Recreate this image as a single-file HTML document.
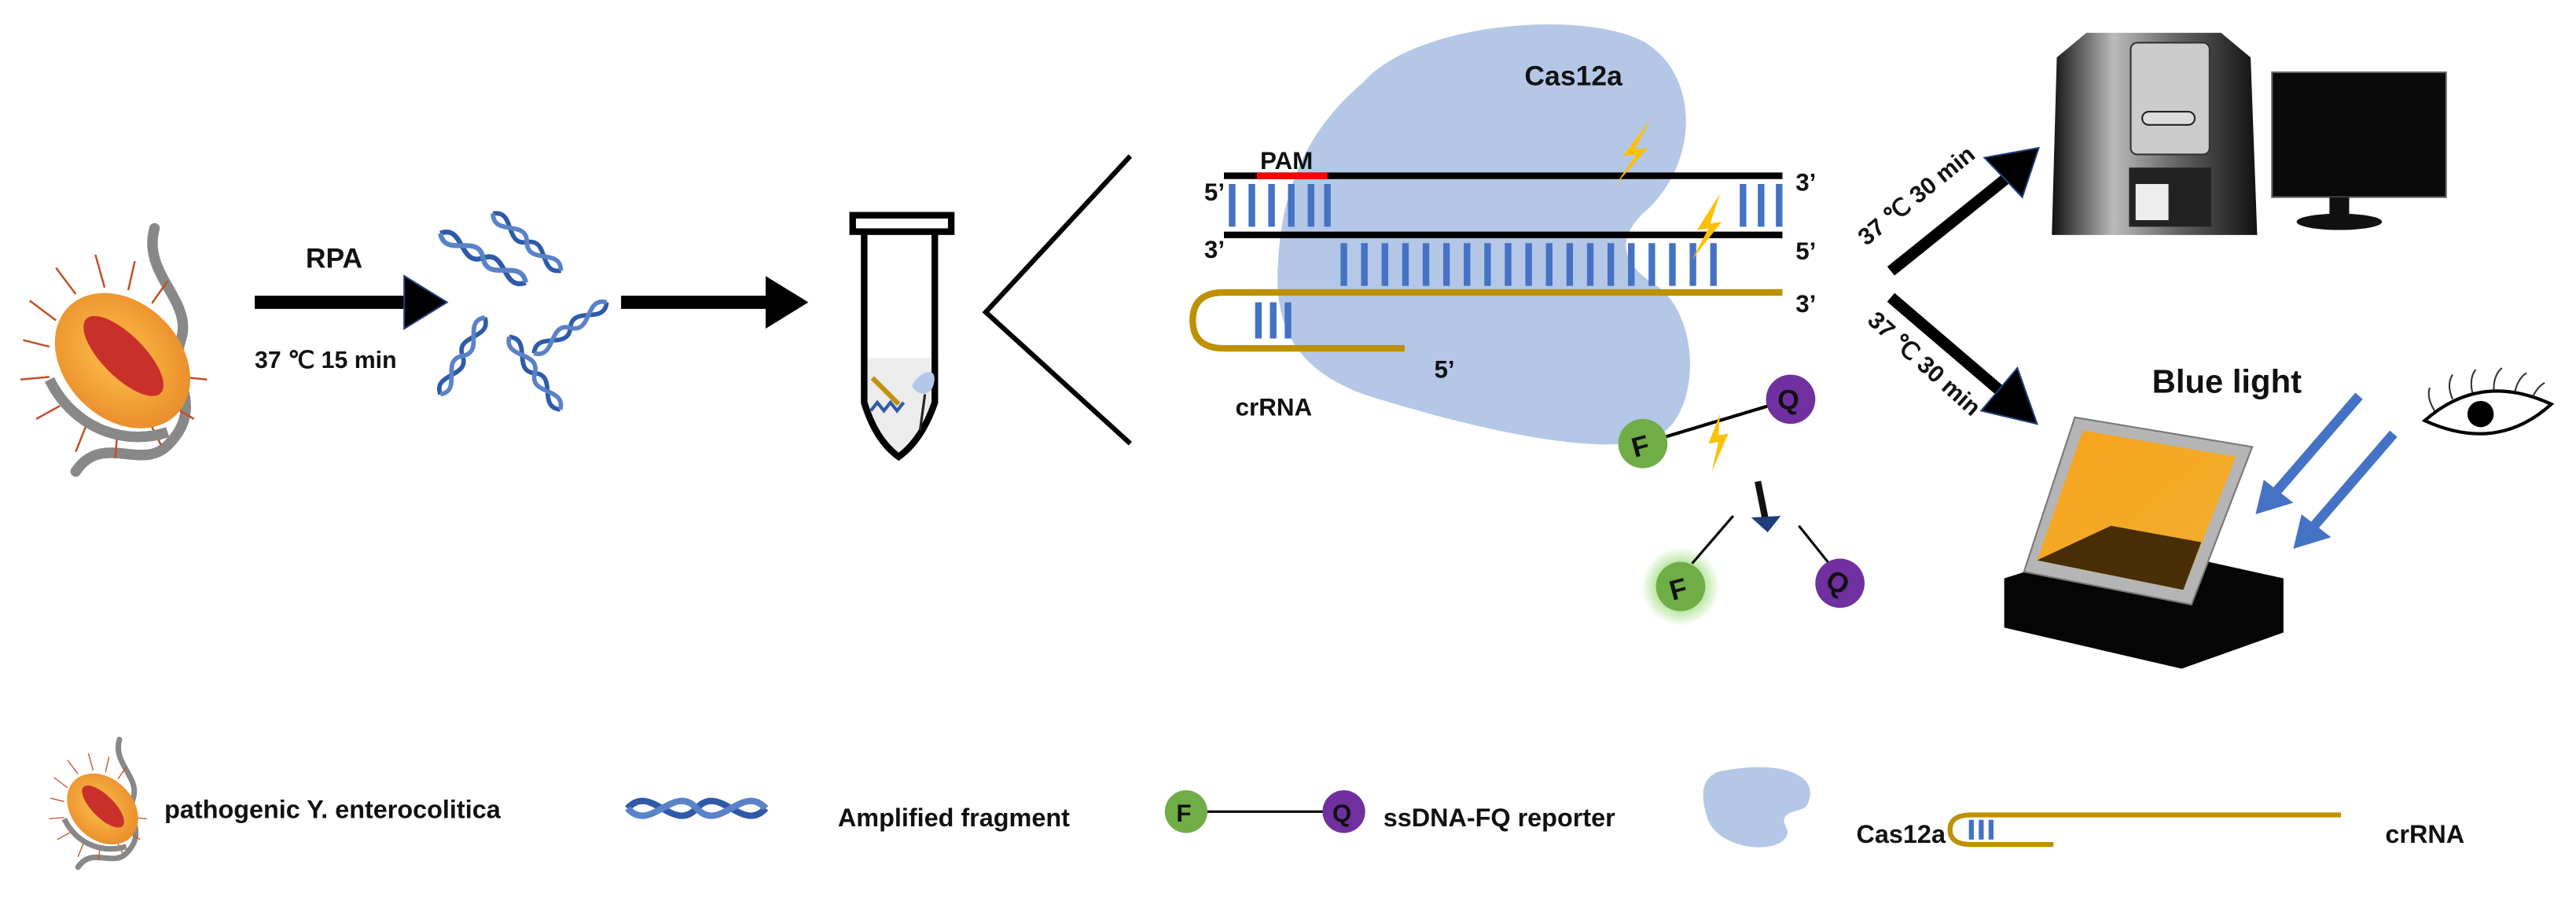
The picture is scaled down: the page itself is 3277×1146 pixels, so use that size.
<!DOCTYPE html>
<html><head><meta charset="utf-8"><style>
html,body{margin:0;padding:0;background:#fff}
svg{display:block}
text{font-family:"Liberation Sans",sans-serif;font-weight:bold;fill:#111}
</style></head><body>
<svg width="3277" height="1146" viewBox="0 0 1568 548.4" xmlns="http://www.w3.org/2000/svg">
<defs>
<radialGradient id="bac" cx="50%" cy="45%" r="60%"><stop offset="0" stop-color="#ffc24a"/><stop offset="1" stop-color="#e88a2a"/></radialGradient>
<radialGradient id="glow"><stop offset="0.5" stop-color="#a8e08a"/><stop offset="1" stop-color="#a8e08a" stop-opacity="0"/></radialGradient>
<linearGradient id="org" x1="0" y1="0" x2="1" y2="1"><stop offset="0" stop-color="#f7a21c"/><stop offset="1" stop-color="#f0b030"/></linearGradient>
<linearGradient id="inst" x1="0" y1="0" x2="1" y2="0"><stop offset="0" stop-color="#111"/><stop offset="0.3" stop-color="#bbb"/><stop offset="0.6" stop-color="#666"/><stop offset="1" stop-color="#111"/></linearGradient>
<g id="bact">
<path d="M30 -95 C20 -60 60 -40 50 -10 C40 20 70 40 40 70 C20 90 -10 60 -30 90" stroke="#888" stroke-width="8" fill="none" stroke-linecap="round"/>
<g stroke="#c0502a" stroke-width="1.5">
<line x1="-70" y1="-10" x2="-50" y2="-5"/><line x1="-65" y1="-40" x2="-45" y2="-25"/><line x1="-45" y1="-65" x2="-30" y2="-45"/><line x1="-15" y1="-75" x2="-8" y2="-50"/><line x1="15" y1="-70" x2="10" y2="-48"/><line x1="40" y1="-55" x2="28" y2="-38"/><line x1="70" y1="20" x2="50" y2="18"/><line x1="60" y1="50" x2="40" y2="38"/><line x1="35" y1="70" x2="25" y2="50"/><line x1="0" y1="80" x2="2" y2="58"/><line x1="-30" y1="75" x2="-22" y2="55"/><line x1="-60" y1="50" x2="-42" y2="40"/><line x1="-72" y1="20" x2="-50" y2="18"/>
</g>
<ellipse cx="0" cy="8" rx="44" ry="58" transform="rotate(-45)" fill="url(#bac)"/>
<ellipse cx="3" cy="6" rx="16" ry="40" transform="rotate(-45)" fill="#c9302a"/>
<path d="M-50 20 C-30 60 10 70 40 60" stroke="#888" stroke-width="8" fill="none"/>
</g>
<g id="helix" fill="none" stroke="#2e5aa8" stroke-width="3">
<path d="M0 0 C10 -12 20 12 30 0 C40 -12 50 12 60 0"/>
<path d="M0 0 C10 12 20 -12 30 0 C40 12 50 -12 60 0" stroke="#5a82c8"/>
</g>
</defs>

<!-- bacterium -->
<g transform="translate(70,215) scale(0.8)"><use href="#bact"/></g>

<!-- RPA arrow -->
<text x="186" y="163" font-size="17">RPA</text>
<line x1="155" y1="184" x2="248" y2="184" stroke="#000" stroke-width="8"/>
<polygon points="246,168 272,184 246,200" fill="#000" stroke="#1f3f7a" stroke-width="1"/>
<text x="155" y="224" font-size="14.5">37 ℃  15 min</text>

<!-- dna cluster -->
<g transform="translate(268,142) rotate(30)"><use href="#helix"/></g>
<g transform="translate(300,130) rotate(40) scale(0.9)"><use href="#helix"/></g>
<g transform="translate(325,215) rotate(-35) scale(0.9)"><use href="#helix"/></g>
<g transform="translate(268,240) rotate(-60) scale(0.9)"><use href="#helix"/></g>
<g transform="translate(310,205) rotate(55) scale(0.9)"><use href="#helix"/></g>

<!-- arrow 2 -->
<line x1="378" y1="184" x2="468" y2="184" stroke="#000" stroke-width="8"/>
<polygon points="466,168 492,184 466,200" fill="#000"/>

<!-- tube -->
<rect x="519" y="131" width="60" height="10" fill="none" stroke="#000" stroke-width="4"/>
<path d="M524 218 L571 218 L571 245 Q563 268 547 278 Q531 268 524 245 Z" fill="#ececec"/>
<path d="M526 141 L526 245 Q533 268 547 278 Q561 268 569 245 L569 141" fill="none" stroke="#000" stroke-width="4"/>
<path d="M555 235 C560 225 572 222 568 235 C565 242 558 240 555 235Z" fill="#b4c7e7"/>
<line x1="531" y1="230" x2="547" y2="246" stroke="#c09010" stroke-width="3"/>
<path d="M530 250 l4 -5 l4 5 l4 -5 l4 5 l4 -5" stroke="#2e5aa8" stroke-width="2" fill="none"/>
<line x1="563" y1="240" x2="560" y2="262" stroke="#222" stroke-width="1.5"/>

<!-- V lines -->
<polyline points="688,95 600,190 688,270" fill="none" stroke="#000" stroke-width="3"/>

<!-- Cas12a blob -->
<path d="M830 50 C860 15 960 5 1000 25 C1035 45 1035 100 1000 130 C985 145 985 160 1010 175 C1035 195 1035 250 1010 265 C980 280 900 262 830 240 C790 225 775 200 778 160 C780 110 800 75 830 50 Z" fill="#b4c7e7"/>
<text x="928" y="52" font-size="17">Cas12a</text>

<!-- DNA strands -->
<text x="767" y="103" font-size="15">PAM</text>
<line x1="745" y1="107" x2="1085" y2="107" stroke="#000" stroke-width="4"/>
<line x1="765" y1="107" x2="808" y2="107" stroke="#f00" stroke-width="4"/>
<line x1="745" y1="143" x2="1085" y2="143" stroke="#000" stroke-width="4"/>
<g stroke="#4472c4" stroke-width="4">
<line x1="750" y1="112" x2="750" y2="138"/><line x1="762" y1="112" x2="762" y2="138"/><line x1="774" y1="112" x2="774" y2="138"/><line x1="786" y1="112" x2="786" y2="138"/><line x1="798" y1="112" x2="798" y2="138"/><line x1="808" y1="112" x2="808" y2="138"/>
<line x1="1061" y1="112" x2="1061" y2="138"/><line x1="1072" y1="112" x2="1072" y2="138"/><line x1="1083" y1="112" x2="1083" y2="138"/>
</g>
<g stroke="#4472c4" stroke-width="4">
<line x1="818" y1="148" x2="818" y2="174"/><line x1="830.5" y1="148" x2="830.5" y2="174"/><line x1="843" y1="148" x2="843" y2="174"/><line x1="855.5" y1="148" x2="855.5" y2="174"/><line x1="868" y1="148" x2="868" y2="174"/><line x1="880.5" y1="148" x2="880.5" y2="174"/><line x1="893" y1="148" x2="893" y2="174"/><line x1="905.5" y1="148" x2="905.5" y2="174"/><line x1="918" y1="148" x2="918" y2="174"/><line x1="930.5" y1="148" x2="930.5" y2="174"/><line x1="943" y1="148" x2="943" y2="174"/><line x1="955.5" y1="148" x2="955.5" y2="174"/><line x1="968" y1="148" x2="968" y2="174"/><line x1="980.5" y1="148" x2="980.5" y2="174"/><line x1="993" y1="148" x2="993" y2="174"/><line x1="1005.5" y1="148" x2="1005.5" y2="174"/><line x1="1018" y1="148" x2="1018" y2="174"/><line x1="1030.5" y1="148" x2="1030.5" y2="174"/><line x1="1043" y1="148" x2="1043" y2="174"/>
<line x1="766" y1="184" x2="766" y2="206"/><line x1="775" y1="184" x2="775" y2="206"/><line x1="784" y1="184" x2="784" y2="206"/>
</g>
<path d="M1085 178 L745 178 Q726 178 726 195 Q726 212 745 212 L855 212" fill="none" stroke="#bf9000" stroke-width="4"/>
<text x="733" y="122" font-size="15">5’</text>
<text x="733" y="157" font-size="15">3’</text>
<text x="1093" y="116" font-size="15">3’</text>
<text x="1093" y="158" font-size="15">5’</text>
<text x="1093" y="190" font-size="15">3’</text>
<text x="873" y="230" font-size="15">5’</text>
<text x="752" y="253" font-size="15">crRNA</text>
<!-- lightning -->
<path d="M1005 72 L988 95 L996 94 L983 113 L1003 90 L995 91 Z" fill="#ffc000"/>
<path d="M1047 118 L1033 140 L1040 139 L1030 158 L1048 135 L1041 136 Z" fill="#ffc000"/>

<!-- reporter -->
<line x1="1000" y1="270" x2="1090" y2="243" stroke="#000" stroke-width="2"/>
<circle cx="1000" cy="270" r="15" fill="#70ad47"/><text x="993" y="277" font-size="17" font-weight="normal" transform="rotate(-15 1000 270)">F</text>
<circle cx="1090" cy="243" r="15" fill="#7030a0"/><text x="1082" y="249" font-size="17" font-weight="normal">Q</text>
<path d="M1047 252 L1040 270 L1046 269 L1042 287 L1052 264 L1046 265 Z" fill="#ffc000"/>
<line x1="1070" y1="293" x2="1075" y2="318" stroke="#111" stroke-width="4"/>
<polygon points="1066,315 1084,314 1076,324" fill="#1f3f7a"/>
<circle cx="1023" cy="357" r="24" fill="url(#glow)"/>
<line x1="1030" y1="343" x2="1055" y2="314" stroke="#000" stroke-width="1.5"/>
<line x1="1095" y1="320" x2="1115" y2="345" stroke="#000" stroke-width="1.5"/>
<circle cx="1023" cy="357" r="15" fill="#70ad47"/><text x="1016" y="364" font-size="17" font-weight="normal" transform="rotate(-15 1023 357)">F</text>
<circle cx="1120" cy="355" r="15" fill="#7030a0"/><text x="1112" y="361" font-size="17" font-weight="normal" transform="rotate(30 1120 355)">Q</text>

<!-- right arrows -->
<line x1="1151" y1="165" x2="1222" y2="108" stroke="#000" stroke-width="7"/>
<polygon points="1208,96 1241,90 1231,120" fill="#000" stroke="#1f3f7a"/>
<text x="0" y="0" font-size="14.5" transform="translate(1136,150) rotate(-39)">37 ℃  30 min</text>
<line x1="1151" y1="181" x2="1220" y2="240" stroke="#000" stroke-width="7"/>
<polygon points="1228,224 1240,258 1206,250" fill="#000" stroke="#1f3f7a"/>
<text x="0" y="0" font-size="14.5" transform="translate(1136,196) rotate(42)">37 ℃  30 min</text>

<!-- instrument -->
<path d="M1252 35 L1270 20 L1352 20 L1370 35 L1374 143 L1249 143 Z" fill="url(#inst)"/>
<rect x="1297" y="26" width="48" height="68" rx="4" fill="#ccc" stroke="#333"/>
<rect x="1304" y="68" width="32" height="8" rx="4" fill="#ddd" stroke="#222"/>
<rect x="1296" y="102" width="50" height="36" fill="#222"/>
<rect x="1300" y="112" width="20" height="22" fill="#eee"/>
<!-- monitor -->
<rect x="1383" y="44" width="106" height="76" fill="#0a0a0a" stroke="#666"/>
<rect x="1418" y="120" width="12" height="12" fill="#111"/>
<ellipse cx="1424" cy="135" rx="26" ry="5" fill="#111"/>

<!-- lightbox -->
<path d="M1220 352 L1290 330 L1390 352 L1390 385 L1328 407 L1220 382 Z" fill="#050505"/>
<path d="M1232 348 L1263 254 L1371 272 L1334 368 Z" fill="#b5b5b5" stroke="#777"/>
<path d="M1240 341 L1268 262 L1361 278 L1329 359 Z" fill="url(#org)"/>
<path d="M1240 341 L1285 320 L1340 330 L1329 359 Z" fill="#2a1800" opacity="0.85"/>

<text x="1310" y="239" font-size="20">Blue light</text>
<line x1="1436" y1="241" x2="1385" y2="300" stroke="#4472c4" stroke-width="6"/>
<polygon points="1373,313 1396,306 1378,292" fill="#4472c4"/>
<line x1="1457" y1="264" x2="1407" y2="322" stroke="#4472c4" stroke-width="6"/>
<polygon points="1396,334 1419,327 1401,313" fill="#4472c4"/>
<!-- eye -->
<path d="M1476 256 Q1510 226 1553 246 Q1520 276 1476 256 Z" fill="#fff" stroke="#000" stroke-width="2"/>
<circle cx="1510" cy="252" r="8" fill="#000"/>
<g stroke="#333" stroke-width="1" fill="none"><path d="M1482 250 q-5 -8 -3 -14"/><path d="M1493 243 q-4 -9 0 -15"/><path d="M1505 239 q-2 -9 2 -14"/><path d="M1518 237 q0 -9 5 -13"/><path d="M1531 238 q2 -8 7 -11"/><path d="M1542 241 q3 -6 7 -8"/></g>

<!-- legend -->
<g transform="translate(60,490) scale(0.42)"><use href="#bact"/></g>
<text x="100" y="498" font-size="15.5">pathogenic Y. enterocolitica</text>
<g transform="translate(382,492) scale(1.4 1.3)"><use href="#helix"/></g>
<text x="510" y="503" font-size="15.5">Amplified fragment</text>
<line x1="722" y1="494" x2="818" y2="494" stroke="#000" stroke-width="1.5"/>
<circle cx="722" cy="494" r="13" fill="#70ad47"/><text x="716" y="500" font-size="15" font-weight="normal">F</text>
<circle cx="818" cy="494" r="13" fill="#7030a0"/><text x="811" y="500" font-size="15" font-weight="normal">Q</text>
<text x="842" y="503" font-size="15.5">ssDNA-FQ reporter</text>
<path d="M1045 470 C1080 462 1110 470 1100 490 C1098 495 1080 492 1088 505 C1090 520 1050 520 1040 500 C1035 485 1035 475 1045 470 Z" fill="#b4c7e7"/>
<text x="1130" y="513" font-size="15.5">Cas12a</text>
<path d="M1425 496 L1200 496 Q1187 496 1187 505 Q1187 514 1200 514 L1250 514" fill="none" stroke="#bf9000" stroke-width="3"/>
<g stroke="#4472c4" stroke-width="3"><line x1="1200" y1="499" x2="1200" y2="511"/><line x1="1206" y1="499" x2="1206" y2="511"/><line x1="1212" y1="499" x2="1212" y2="511"/></g>
<text x="1452" y="513" font-size="15.5">crRNA</text>
</svg>
</body></html>
